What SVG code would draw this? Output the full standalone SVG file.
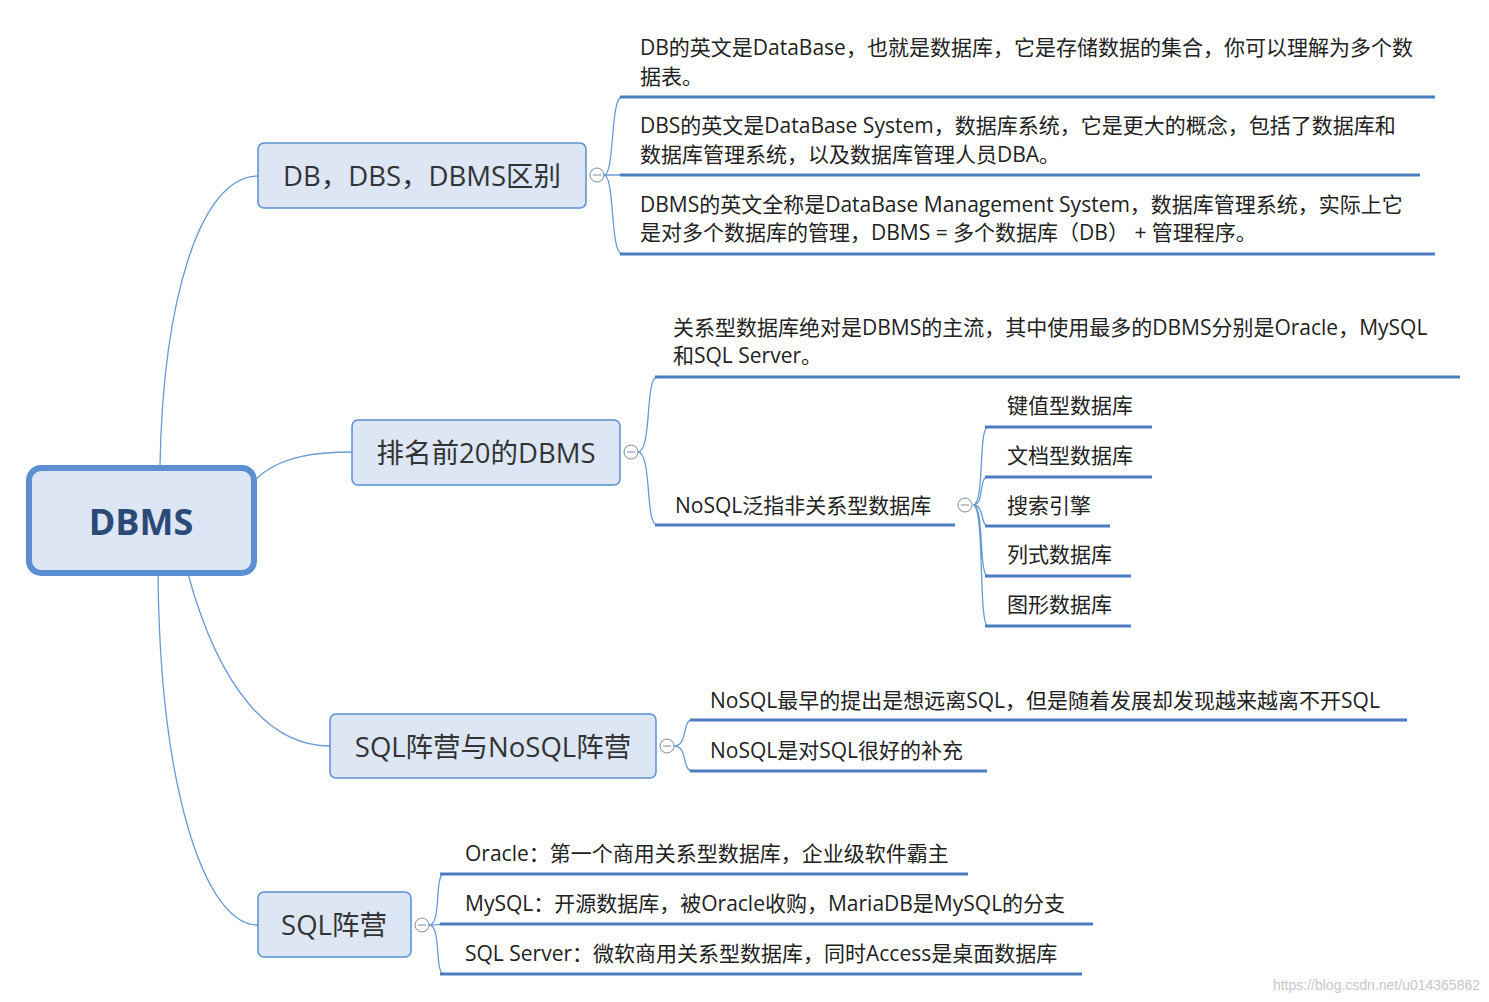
<svg xmlns="http://www.w3.org/2000/svg" width="1489" height="1002" viewBox="0 0 1489 1002">
<style>
.n{fill:#dce6f4;stroke:#5b8fd1;stroke-width:1.5}
.bt{font-family:"Open Sans","Noto Sans CJK SC",sans-serif;font-size:27.5px;fill:#333}
.t{font-family:"Open Sans","Noto Sans CJK SC",sans-serif;font-size:21px;fill:#222}
.u{stroke:#4a7cc0;stroke-width:3;fill:none}
.c{stroke:#6a9ad4;stroke-width:1.3;fill:none}
.k{fill:#fff;stroke:#7a8a9a;stroke-width:1}
</style>
<rect width="1489" height="1002" fill="#fff"/>
<g id="connectors">
<path class="c" d="M160,466 C163,300 200,176 258,176"/>
<path class="c" d="M255,480 C280,455 320,452 352,452"/>
<path class="c" d="M188,574 C220,690 270,746 330,746"/>
<path class="c" d="M158,574 C160,790 205,925 258,925"/>
<path class="c" d="M604,175 C615,175 610,97 622,97 M604,175 C615,175 612,175 622,175 M604,175 C615,175 610,254 622,254"/>
<path class="c" d="M638,452 C652,452 645,377 657,377 M638,452 C652,452 645,525 657,525"/>
<path class="c" d="M973,505 C985,505 978,427 988,427 M973,505 C985,505 978,477 988,477 M973,505 C985,505 980,526 988,526 M973,505 C985,505 978,576 988,576 M973,505 C985,505 978,626 988,626"/>
<path class="c" d="M674,746 C688,746 682,720 692,720 M674,746 C688,746 682,771 692,771"/>
<path class="c" d="M429,925 C442,925 434,874 444,874 M429,925 C442,925 436,924 444,924 M429,925 C442,925 434,974 444,974"/>
</g>
<g id="root"><rect x="29" y="468" width="225" height="105" rx="12" fill="#dce6f4" stroke="#5b8fd1" stroke-width="6"/><text x="141" y="535" text-anchor="middle" font-family="Open Sans,sans-serif" font-weight="bold" font-size="36" fill="#2b4a78">DBMS</text></g>
<g id="b1"><rect class="n" x="258" y="143" width="328" height="65" rx="6"/><text class="bt" x="422" y="186" text-anchor="middle">DB，DBS，DBMS区别</text><circle class="k" cx="597" cy="175" r="7"/><line x1="593" y1="175" x2="601" y2="175" stroke="#7a8a9a"/></g>
<g id="b2"><rect class="n" x="352" y="420" width="268" height="65" rx="6"/><text class="bt" x="486" y="463" text-anchor="middle">排名前20的DBMS</text><circle class="k" cx="631" cy="452" r="7"/><line x1="627" y1="452" x2="635" y2="452" stroke="#7a8a9a"/></g>
<g id="b3"><rect class="n" x="330" y="714" width="326" height="64" rx="6"/><text class="bt" x="493" y="757" text-anchor="middle">SQL阵营与NoSQL阵营</text><circle class="k" cx="667" cy="746" r="7"/><line x1="663" y1="746" x2="671" y2="746" stroke="#7a8a9a"/></g>
<g id="b4"><rect class="n" x="258" y="892" width="153" height="65" rx="6"/><text class="bt" x="334" y="935" text-anchor="middle">SQL阵营</text><circle class="k" cx="422" cy="925" r="7"/><line x1="418" y1="925" x2="426" y2="925" stroke="#7a8a9a"/></g>
<g id="l1"><text class="t" x="640" y="55">DB的英文是DataBase，也就是数据库，它是存储数据的集合，你可以理解为多个数</text><text class="t" x="640" y="84">据表。</text><line class="u" x1="620" y1="97" x2="1435" y2="97"/></g>
<g id="l2"><text class="t" x="640" y="133">DBS的英文是DataBase System，数据库系统，它是更大的概念，包括了数据库和</text><text class="t" x="640" y="162">数据库管理系统，以及数据库管理人员DBA。</text><line class="u" x1="620" y1="175" x2="1420" y2="175"/></g>
<g id="l3"><text class="t" x="640" y="212">DBMS的英文全称是DataBase Management System，数据库管理系统，实际上它</text><text class="t" x="640" y="240">是对多个数据库的管理，DBMS = 多个数据库（DB） + 管理程序。</text><line class="u" x1="620" y1="254" x2="1435" y2="254"/></g>
<g id="l4"><text class="t" x="673" y="335">关系型数据库绝对是DBMS的主流，其中使用最多的DBMS分别是Oracle，MySQL</text><text class="t" x="673" y="363">和SQL Server。</text><line class="u" x1="655" y1="377" x2="1460" y2="377"/></g>
<g id="l5"><text class="t" x="675" y="513">NoSQL泛指非关系型数据库</text><line class="u" x1="655" y1="525" x2="955" y2="525"/><circle class="k" cx="965" cy="505" r="7"/><line x1="961" y1="505" x2="969" y2="505" stroke="#7a8a9a"/></g>
<g id="s1"><text class="t" x="1007" y="413">键值型数据库</text><line class="u" x1="985" y1="427" x2="1152" y2="427"/></g>
<g id="s2"><text class="t" x="1007" y="463">文档型数据库</text><line class="u" x1="985" y1="477" x2="1152" y2="477"/></g>
<g id="s3"><text class="t" x="1007" y="513">搜索引擎</text><line class="u" x1="985" y1="526" x2="1110" y2="526"/></g>
<g id="s4"><text class="t" x="1007" y="562">列式数据库</text><line class="u" x1="985" y1="576" x2="1131" y2="576"/></g>
<g id="s5"><text class="t" x="1007" y="612">图形数据库</text><line class="u" x1="985" y1="626" x2="1131" y2="626"/></g>
<g id="l6"><text class="t" x="710" y="708">NoSQL最早的提出是想远离SQL，但是随着发展却发现越来越离不开SQL</text><line class="u" x1="690" y1="720" x2="1407" y2="720"/></g>
<g id="l7"><text class="t" x="710" y="758">NoSQL是对SQL很好的补充</text><line class="u" x1="690" y1="771" x2="987" y2="771"/></g>
<g id="l8"><text class="t" x="465" y="861">Oracle：第一个商用关系型数据库，企业级软件霸主</text><line class="u" x1="440" y1="874" x2="968" y2="874"/></g>
<g id="l9"><text class="t" x="465" y="911">MySQL：开源数据库，被Oracle收购，MariaDB是MySQL的分支</text><line class="u" x1="440" y1="924" x2="1093" y2="924"/></g>
<g id="l10"><text class="t" x="465" y="961">SQL Server：微软商用关系型数据库，同时Access是桌面数据库</text><line class="u" x1="440" y1="974" x2="1082" y2="974"/></g>
<text x="1480" y="990" text-anchor="end" font-family="Liberation Sans,sans-serif" font-size="14" fill="#c8c8c8">https://blog.csdn.net/u014365862</text>
</svg>
